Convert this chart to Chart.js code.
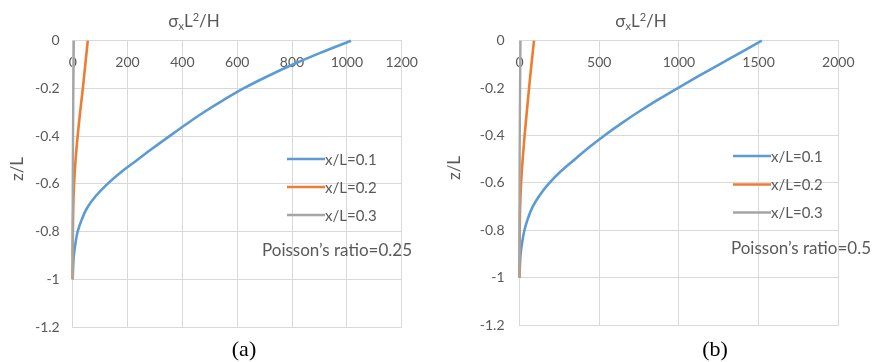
<!DOCTYPE html>
<html>
<head>
<meta charset="utf-8">
<script src="https://cdn.jsdelivr.net/npm/chart.js@4.4.1/dist/chart.umd.min.js"></script>
<style>
  html, body { margin: 0; padding: 0; background: #ffffff; }
  #wrap { position: relative; width: 880px; height: 362px; overflow: hidden; }
  canvas { position: absolute; top: 0; }
  #chartA { left: 0; }
  #chartB { left: 440px; }
</style>
</head>
<body>
<div id="wrap">
  <canvas id="chartA" width="440" height="362"></canvas>
  <canvas id="chartB" width="440" height="362"></canvas>
</div>
<script>
// Depth below the surface, z/L
const zDepth = [0, -0.05, -0.1, -0.15, -0.2, -0.25, -0.3, -0.35, -0.4, -0.45, -0.5,
                -0.55, -0.6, -0.65, -0.7, -0.75, -0.8, -0.85, -0.9, -0.95, -1];

const seriesNames = ['x/L=0.1', 'x/L=0.2', 'x/L=0.3'];

// Normalised stress σx·L²/H, Poisson's ratio 0.25
const stressA_x01 = [1015, 905, 803, 709, 623, 548, 478, 414, 353, 293, 235,
                     177, 127, 85, 53, 33, 18, 10, 4, 1.5, 0];
const stressA_x02 = [55, 50.5, 46, 41.5, 37, 32, 27, 22.5, 18, 14, 10.5,
                     7.5, 5, 3.2, 2, 1.2, 0.6, 0.3, 0.1, 0.03, 0];
const stressA_x03 = [4, 3.6, 3.2, 2.8, 2.4, 2.1, 1.8, 1.5, 1.2, 0.9, 0.7,
                     0.5, 0.3, 0.2, 0.1, 0.06, 0.03, 0.01, 0, 0, 0];

// Normalised stress σx·L²/H, Poisson's ratio 0.5
const stressB_x01 = [1520, 1387, 1255, 1122, 993, 867, 748, 637, 533, 437, 348,
                     261, 188, 129, 83, 53, 31, 17, 7, 2.5, 0];
const stressB_x02 = [91, 83, 75, 67.5, 60, 53, 46, 39, 32, 26, 20,
                     14.5, 10, 6.5, 4, 2.5, 1.5, 0.7, 0.3, 0.1, 0];
const stressB_x03 = [6, 5.4, 4.8, 4.2, 3.6, 3.1, 2.6, 2.1, 1.7, 1.3, 1,
                     0.7, 0.5, 0.3, 0.2, 0.1, 0.05, 0.02, 0, 0, 0];

// Axis ticks and their labels
const xTicksA = [0, 200, 400, 600, 800, 1000, 1200];
const xTickLabelsA = ['0', '200', '400', '600', '800', '1000', '1200'];
const xTicksB = [0, 500, 1000, 1500, 2000];
const xTickLabelsB = ['0', '500', '1000', '1500', '2000'];
const zTicks = [0, -0.2, -0.4, -0.6, -0.8, -1, -1.2];
const zTickLabels = ['0', '-0.2', '-0.4', '-0.6', '-0.8', '-1', '-1.2'];

const noteA = 'Poisson\u2019s ratio=0.25';
const noteB = 'Poisson\u2019s ratio=0.5';
const panelA = '(a)';
const panelB = '(b)';
const yTitle = 'z/L';
// header pieces: σ, subscript x, L, superscript 2, /H
const headerParts = [
  { t: '\u03c3' }, { t: 'x', sub: true }, { t: 'L' }, { t: '2', sup: true }, { t: '/H' }
];

const seriesColors = ['#5b9bd5', '#ed7d31', '#a5a5a5'];
const seriesWidths = [2.6, 2.6, 2.4];
const TEXT = '#595959';
const GRID = '#d9d9d9';
const FONT = 'Lato, "Open Sans", sans-serif';

// Draws the axis header, the depth title, the legend, the note and the panel letter
const panelText = {
  id: 'panelText',
  afterDraw(chart, args, o) {
    const ctx = chart.ctx;
    ctx.save();

    // header over the stress axis, with sub/superscripts
    const base = 17, small = 11;
    let total = 0;
    const widths = headerParts.map(p => {
      ctx.font = (p.sub || p.sup ? small : base) + 'px ' + FONT;
      const w = ctx.measureText(p.t).width;
      total += w;
      return w;
    });
    let hx = o.headerX - total / 2;
    ctx.fillStyle = TEXT;
    ctx.textAlign = 'left';
    ctx.textBaseline = 'alphabetic';
    headerParts.forEach((p, i) => {
      ctx.font = (p.sub || p.sup ? small : base) + 'px ' + FONT;
      const dy = p.sub ? 3 : (p.sup ? -6 : 0);
      ctx.fillText(p.t, hx, o.headerY + dy);
      hx += widths[i];
    });

    // depth title
    ctx.save();
    ctx.translate(o.yTitleX, o.yTitleY);
    ctx.rotate(-Math.PI / 2);
    ctx.font = '17px ' + FONT;
    ctx.textAlign = 'center';
    ctx.textBaseline = 'middle';
    ctx.fillText(yTitle, 0, 0);
    ctx.restore();

    // legend entries taken from the datasets
    ctx.font = '15px ' + FONT;
    ctx.textBaseline = 'middle';
    ctx.textAlign = 'left';
    chart.data.datasets.forEach((ds, i) => {
      const y = o.legendY[i];
      ctx.strokeStyle = ds.borderColor;
      ctx.lineWidth = ds.borderWidth;
      ctx.beginPath();
      ctx.moveTo(o.legendX, y);
      ctx.lineTo(o.legendX + 38, y);
      ctx.stroke();
      ctx.fillStyle = TEXT;
      ctx.fillText(ds.label, o.legendX + 38, y + 1);
    });

    // Poisson's ratio note
    ctx.font = '17px ' + FONT;
    ctx.textAlign = 'center';
    ctx.fillStyle = TEXT;
    ctx.fillText(o.note, o.noteX, o.noteY);

    // panel letter
    ctx.font = '22px "Liberation Serif", "Times New Roman", serif';
    ctx.fillStyle = '#000000';
    ctx.fillText(o.panel, o.panelX, o.panelY);

    ctx.restore();
  }
};

function makeDatasets(v1, v2, v3) {
  return [v1, v2, v3].map((vals, i) => ({
    label: seriesNames[i],
    data: zDepth.map((z, k) => ({ x: vals[k], y: z })),
    borderColor: seriesColors[i],
    backgroundColor: seriesColors[i],
    borderWidth: seriesWidths[i],
    pointRadius: 0,
    cubicInterpolationMode: 'monotone',
    fill: false,
    clip: false,
    order: 3 - i
  }));
}

function makeChart(id, datasets, cfg) {
  return new Chart(document.getElementById(id), {
    type: 'line',
    data: { datasets },
    plugins: [panelText],
    options: {
      indexAxis: 'y',
      responsive: false,
      animation: false,
      devicePixelRatio: 1,
      events: [],
      layout: { padding: cfg.padding },
      plugins: {
        legend: { display: false },
        tooltip: { enabled: false },
        title: { display: false },
        panelText: cfg.text
      },
      scales: {
        x: {
          type: 'linear',
          position: { y: 0 },
          min: cfg.xTicks[0],
          max: cfg.xTicks[cfg.xTicks.length - 1],
          afterBuildTicks: s => { s.ticks = cfg.xTicks.map(v => ({ value: v })); },
          ticks: {
            autoSkip: false,
            maxRotation: 0,
            color: TEXT,
            font: { family: FONT, size: 14 },
            callback: (v, i) => cfg.xLabels[i]
          },
          grid: { color: GRID, lineWidth: 1, tickLength: 10, tickColor: 'rgba(0,0,0,0)' },
          border: { color: GRID, width: 1 }
        },
        y: {
          type: 'linear',
          position: 'left',
          min: zTicks[zTicks.length - 1],
          max: zTicks[0],
          afterBuildTicks: s => { s.ticks = zTicks.map(v => ({ value: v })); },
          afterFit: s => { s.width = cfg.yWidth; },
          ticks: {
            color: TEXT,
            padding: cfg.yPad,
            font: { family: FONT, size: 14 },
            callback: (v, i) => zTickLabels[i]
          },
          grid: { color: GRID, lineWidth: 1, drawTicks: false },
          border: { color: GRID, width: 1 }
        }
      }
    }
  });
}

makeChart('chartA', makeDatasets(stressA_x01, stressA_x02, stressA_x03), {
  padding: { left: 0, right: 38.3, top: 40.7, bottom: 35 },
  xTicks: xTicksA, xLabels: xTickLabelsA, yWidth: 72.7, yPad: 13,
  text: {
    headerX: 194, headerY: 27,
    yTitleX: 18, yTitleY: 169,
    legendX: 287, legendY: [159, 187, 215],
    note: noteA, noteX: 337, noteY: 251,
    panel: panelA, panelX: 244, panelY: 350
  }
});

makeChart('chartB', makeDatasets(stressB_x01, stressB_x02, stressB_x03), {
  padding: { left: 0, right: 41.7, top: 40.7, bottom: 37 },
  xTicks: xTicksB, xLabels: xTickLabelsB, yWidth: 79.5, yPad: 15,
  text: {
    headerX: 201, headerY: 27,
    yTitleX: 15, yTitleY: 168,
    legendX: 293, legendY: [156, 184.5, 212.5],
    note: noteB, noteX: 361, noteY: 249,
    panel: panelB, panelX: 275, panelY: 350
  }
});
</script>
</body>
</html>
